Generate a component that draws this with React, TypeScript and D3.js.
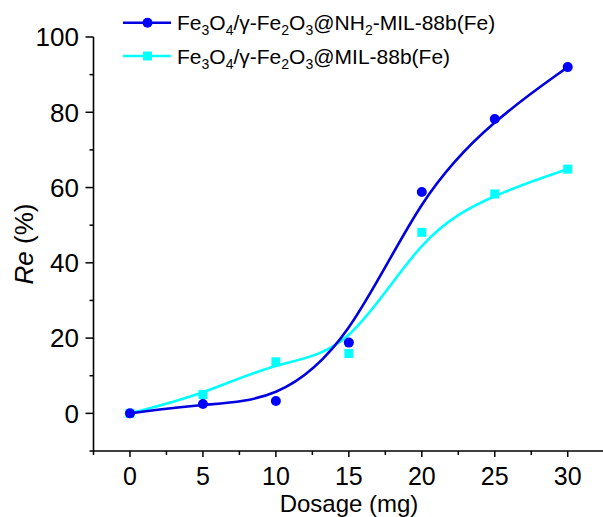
import * as d3 from "d3";
import { useEffect, useRef } from "react";

// dosage (mg)
const dosage = [0, 5, 10, 15, 20, 25, 30];
// Re (%) for each material
const reNH2 = [0, 2.5, 3.3, 18.8, 58.8, 78.2, 92.0];
const reMIL = [0, 5.0, 13.7, 15.9, 48.1, 58.3, 64.9];

const seriesNames = ["NH2", "MIL"];
const xTicks = [0, 5, 10, 15, 20, 25, 30];
const yTicks = [0, 20, 40, 60, 80, 100];

export default function App() {
  const svgRef = useRef<SVGSVGElement>(null);
  const width = 603;
  const height = 517;

  useEffect(() => {
    const svg = d3.select(svgRef.current);
    svg.selectAll("*").remove();
    const font = "'Liberation Sans', Arial, sans-serif";

    const x = d3.scaleLinear().domain([-2.5, 32.5]).range([93.5, 604.2]);
    const y = d3.scaleLinear().domain([-10, 100]).range([451, 37]);

    // axes lines
    svg.append("line")
      .attr("x1", x(-2.5)).attr("x2", width + 2)
      .attr("y1", y(-10)).attr("y2", y(-10))
      .attr("stroke", "#000").attr("stroke-width", 1.6);
    svg.append("line")
      .attr("x1", x(-2.5)).attr("x2", x(-2.5))
      .attr("y1", y(100)).attr("y2", y(-10))
      .attr("stroke", "#000").attr("stroke-width", 1.6);

    // x ticks (major + minor)
    d3.range(-2.5, 33, 2.5).forEach((v) => {
      const major = v % 5 === 0;
      svg.append("line")
        .attr("x1", x(v)).attr("x2", x(v))
        .attr("y1", y(-10)).attr("y2", y(-10) + (major ? 6 : 4))
        .attr("stroke", "#000").attr("stroke-width", 1.5);
    });
    svg.selectAll("text.xt")
      .data(xTicks)
      .enter()
      .append("text")
      .attr("class", "xt")
      .attr("x", (d) => x(d))
      .attr("y", 484.5)
      .attr("text-anchor", "middle")
      .style("font-family", font)
      .style("font-size", "25px")
      .text((d) => d);

    // y ticks (major + minor)
    d3.range(-10, 101, 10).forEach((v) => {
      const major = v % 20 === 0;
      svg.append("line")
        .attr("x1", x(-2.5)).attr("x2", x(-2.5) - (major ? 8 : 4))
        .attr("y1", y(v)).attr("y2", y(v))
        .attr("stroke", "#000").attr("stroke-width", 1.5);
    });
    svg.selectAll("text.yt")
      .data(yTicks)
      .enter()
      .append("text")
      .attr("class", "yt")
      .attr("x", 79)
      .attr("y", (d) => y(d))
      .attr("dy", "0.36em")
      .attr("text-anchor", "end")
      .style("font-family", font)
      .style("font-size", "26px")
      .text((d) => d);

    // axis titles
    svg.append("text")
      .attr("x", 349)
      .attr("y", 511.5)
      .attr("text-anchor", "middle")
      .style("font-family", font)
      .style("font-size", "24px")
      .text("Dosage (mg)");
    const yl = svg.append("text")
      .attr("transform", `translate(33,${y(45)}) rotate(-90)`)
      .attr("text-anchor", "middle")
      .style("font-family", font)
      .style("font-size", "26px");
    yl.append("tspan").style("font-style", "italic").text("Re");
    yl.append("tspan").text(" (%)");

    const line = d3.line<[number, number]>()
      .x((d) => x(d[0]))
      .y((d) => y(d[1]))
      .curve(d3.curveBasis);

    const colors = { NH2: "#0000ff", MIL: "#00ffff" };
    const values = { NH2: reNH2, MIL: reMIL };

    // draw MIL first, then NH2 on top
    ["MIL", "NH2"].forEach((k) => {
      const pts = dosage.map((d, i) => [d, values[k][i]] as [number, number]);
      svg.append("path")
        .attr("d", line(pts))
        .attr("fill", "none")
        .attr("stroke", k === "NH2" ? "#0000e0" : colors[k])
        .attr("stroke-width", 2.6);
      if (k === "NH2") {
        svg.selectAll("circle.nh2")
          .data(pts)
          .enter()
          .append("circle")
          .attr("class", "nh2")
          .attr("cx", (d) => x(d[0]))
          .attr("cy", (d) => y(d[1]))
          .attr("r", 5)
          .attr("fill", colors[k]);
      } else {
        svg.selectAll("rect.mil")
          .data(pts)
          .enter()
          .append("rect")
          .attr("class", "mil")
          .attr("x", (d) => x(d[0]) - 4.5)
          .attr("y", (d) => y(d[1]) - 4.5)
          .attr("width", 9)
          .attr("height", 9)
          .attr("fill", colors[k]);
      }
    });

    // legend
    const legendY = [22.7, 56];
    seriesNames.forEach((k, i) => {
      const ly = legendY[i];
      svg.append("line")
        .attr("x1", 123).attr("x2", 171)
        .attr("y1", ly).attr("y2", ly)
        .attr("stroke", k === "NH2" ? "#0000e0" : colors[k])
        .attr("stroke-width", 2.6);
      if (k === "NH2") {
        svg.append("circle").attr("cx", 147.5).attr("cy", ly).attr("r", 5).attr("fill", colors[k]);
      } else {
        svg.append("rect").attr("x", 143).attr("y", ly - 4.5).attr("width", 9).attr("height", 9).attr("fill", colors[k]);
      }
      const t = svg.append("text")
        .attr("x", 177)
        .attr("y", ly + 7.5)
        .style("font-family", font)
        .style("font-size", "21px");
      const sub = (s: string) => t.append("tspan").attr("dy", 5).style("font-size", "14px").text(s);
      const norm = (s: string) => t.append("tspan").attr("dy", -5).text(s);
      t.append("tspan").text("Fe");
      sub("3");
      norm("O");
      sub("4");
      norm("/\u03b3-Fe");
      sub("2");
      norm("O");
      sub("3");
      if (k === "NH2") {
        norm("@NH");
        sub("2");
        norm("-MIL-88b(Fe)");
      } else {
        norm("@MIL-88b(Fe)");
      }
    });

    return () => {};
  }, []);

  return (
    <div style={{ position: "absolute", left: 0, top: 0, width, height, background: "#fff" }}>
      <svg ref={svgRef} width={width} height={height}></svg>
    </div>
  );
}
